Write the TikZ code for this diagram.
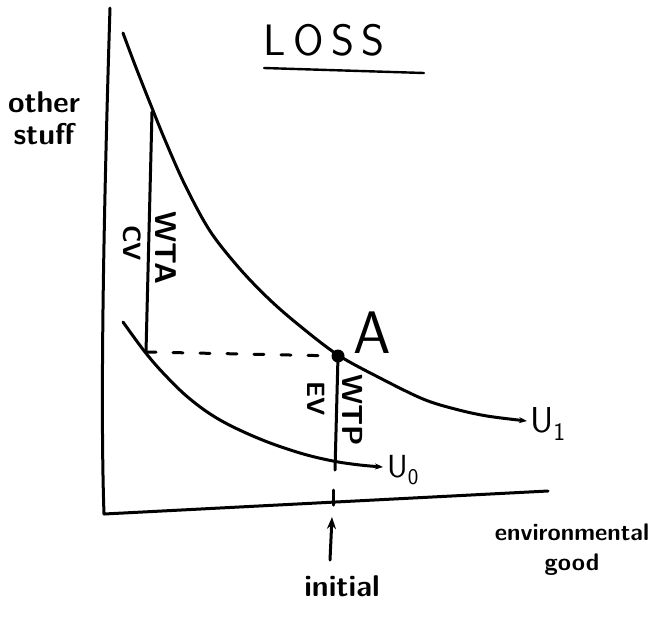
\documentclass[tikz,border=0pt]{standalone}
\usetikzlibrary{arrows.meta}
\begin{document}
\begin{tikzpicture}[x=1pt,y=-1pt,
  ink/.style={line width=3pt,line cap=round,line join=round},
  curvearrow/.style={ink,-{Stealth[length=8pt,width=6pt]}},
  lab/.style={font=\sffamily,inner sep=0pt},
  vlab/.style={lab,rotate=-90}]
\useasboundingbox (0,0) rectangle (668,622);
% axes
\coordinate (ytop) at (110,8);
\coordinate (origin) at (104,514);
\coordinate (xend) at (548,491);
\draw[ink] (ytop) .. controls (104,200) and (100,400) .. (origin) -- (xend);
% title
\node[lab,font=\sffamily\fontsize{44}{44}\selectfont] (loss) at (324,40) {L\,O\,S\,S};
\coordinate (ulA) at (264,68);
\coordinate (ulB) at (424,73);
\draw[line width=2.4pt,line cap=round] (ulA) -- (ulB);
% axis labels
\node[lab,font=\sffamily\bfseries\fontsize{30}{32}\selectfont,align=center] (ylab) at (44,118) {other\\stuff};
\node[lab,font=\sffamily\bfseries\fontsize{24}{30}\selectfont,align=center] (xlab) at (572,550) {environmental\\good};
% indifference curves
\draw[curvearrow] plot[smooth,tension=0.55] coordinates {(123,33) (135,65) (150,103) (165,140) (185,185) (210,231) (240,269) (270,300) (300,326) (338,355) (380,378) (423,399) (455,409) (487,416) (527,421)};
\node[lab,font=\sffamily\fontsize{36}{36}\selectfont] (u1) at (548,424) {U\textsubscript{1}};
\draw[curvearrow] plot[smooth,tension=0.6] coordinates {(123,322) (145,352) (165,375) (190,399) (220,420) (260,439) (300,453) (333,461) (360,465) (383,467)};
\node[lab,font=\sffamily\fontsize{32}{32}\selectfont] (u0) at (403,470) {U\textsubscript{0}};
% point A
\coordinate (A) at (338,356);
\fill (A) circle (6.5pt);
\node[lab,font=\sffamily\fontsize{60}{60}\selectfont] (alab) at (372,333) {A};
% WTA / CV
\coordinate (wtatop) at (152,112);
\coordinate (wtabot) at (146,352);
\draw[ink] (wtatop) -- (wtabot);
\draw[ink,dash pattern=on 10pt off 17pt] (wtabot) -- (A);
\node[vlab,font=\sffamily\bfseries\fontsize{30}{30}\selectfont] (wta) at (166,248) {WTA};
\node[vlab,font=\sffamily\bfseries\fontsize{25}{25}\selectfont] (cv) at (132,243) {CV};
% WTP / EV
\coordinate (wtpbot) at (335,470);
\draw[ink] (A) -- (wtpbot);
\node[vlab,font=\sffamily\bfseries\fontsize{29}{29}\selectfont] (wtp) at (353,410) {WTP};
\node[vlab,font=\sffamily\bfseries\fontsize{25}{25}\selectfont] (ev) at (316,399) {EV};
% tick and initial arrow
\coordinate (tickA) at (333,490);
\coordinate (tickB) at (333,505);
\draw[ink] (tickA) -- (tickB);
\coordinate (arrtail) at (330,560);
\coordinate (arrhead) at (332,517);
\draw[ink,-{Stealth[length=12pt,width=9pt]}] (arrtail) -- (arrhead);
\node[lab,font=\sffamily\bfseries\fontsize{30}{30}\selectfont] (init) at (342,586) {initial};
\end{tikzpicture}
\end{document}
